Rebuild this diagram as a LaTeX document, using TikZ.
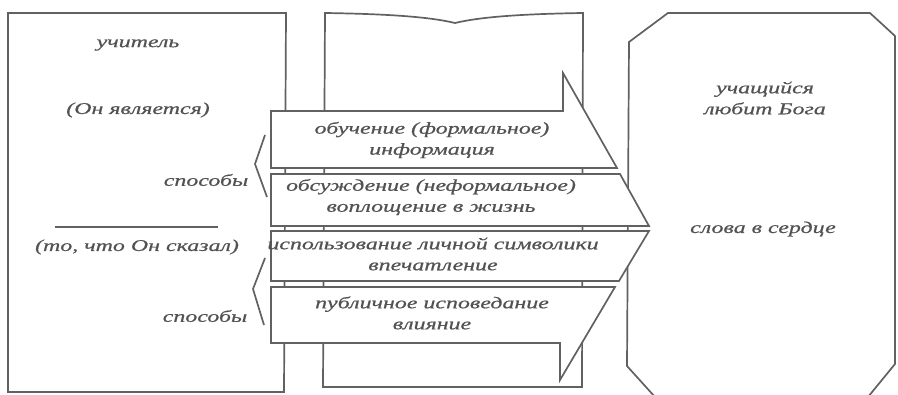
\documentclass[tikz,border=0pt]{standalone}
\usepackage{fontspec}
\newfontfamily\hand[FakeStretch=1.45,FakeBold=0.6]{Liberation Serif}
\definecolor{ink}{gray}{0.38}
\definecolor{txt}{gray}{0.32}
\begin{document}
\begin{tikzpicture}[x=1pt,y=-1pt,
  box/.style={draw=ink, line width=1.7pt, line join=miter},
  band/.style={draw=ink, fill=white, line width=1.7pt, line join=miter},
  lbl/.style={text=txt, font=\hand\itshape\fontsize{16.5}{21}\selectfont, align=center, inner sep=0pt}]
\useasboundingbox (0,0) rectangle (898,395);
% left box (teacher)
\draw[box] (8,13) -- (286,13) -- (284,392) -- (8,392) -- cycle;
% middle box (book)
\draw[box] (325,13) .. controls (390,14) and (430,17) .. (455,23)
  .. controls (480,17) and (520,14) .. (583,13) -- (582,387) -- (323,387) -- cycle;
% right octagon (learner)
\draw[box] (668,13) -- (870,13) -- (895,36) -- (895,364) -- (868,397) -- (655,397) -- (627,366) -- (629,42) -- cycle;
% arrow bands
\draw[band] (271,111) -- (563,111) -- (563,73) -- (617,168) -- (271,168) -- cycle;
\draw[band] (271,174) -- (620,174) -- (649,226) -- (271,226) -- cycle;
\draw[band] (271,231) -- (649,231) -- (619,281) -- (271,281) -- cycle;
\draw[band] (271,287) -- (615,287) -- (560,380) -- (560,343) -- (271,343) -- cycle;
% brackets and rule
\draw[box] (265,135) -- (255,164) -- (267,197);
\draw[box] (265,258) -- (253,289) -- (264,325);
\draw[box] (55,227) -- (218,227);
% texts
\node[lbl] (teacher) at (138,45) {учитель};
\node[lbl] (is) at (138,110) {(Он является)};
\node[lbl] (said) at (137,247) {(то, что Он сказал)};
\node[lbl] (ways1) at (206,180) {способы};
\node[lbl] (ways2) at (205,316) {способы};
\node[lbl] (b1) at (432,140) {обучение (формальное)\\информация};
\node[lbl] (b2) at (431,197) {обсуждение (неформальное)\\воплощение в жизнь};
\node[lbl] (b3) at (433,254) {использование личной символики\\впечатление};
\node[lbl] (b4) at (432,313) {публичное исповедание\\влияние};
\node[lbl] (learner) at (765,98) {учащийся\\любит Бога};
\node[lbl] (words) at (763,229) {слова в сердце};
\end{tikzpicture}
\end{document}
